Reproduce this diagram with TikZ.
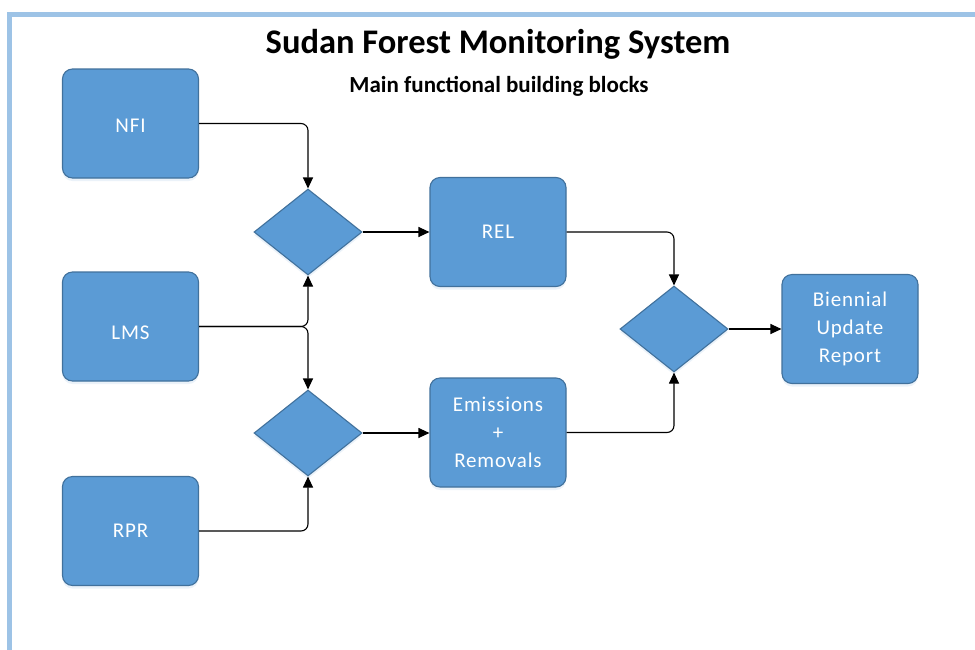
\documentclass[tikz,border=0pt]{standalone}
\usepackage{fontspec}
\setmainfont{Carlito}
\newfontfamily\boxfont[LetterSpace=4]{Carlito}
\usetikzlibrary{shapes.geometric,arrows.meta,shadows}
\definecolor{boxblue}{HTML}{5B9BD5}
\definecolor{boxedge}{HTML}{41719C}
\definecolor{frameblue}{HTML}{9DC3E6}
\tikzset{
  blockbox/.style={rectangle, rounded corners=10pt, fill=boxblue, draw=boxedge, line width=1.1pt,
    minimum width=136pt, minimum height=109pt, inner sep=0pt, text=white, align=center,
    font=\boxfont\fontsize{21}{28}\selectfont,
    drop shadow={shadow xshift=0pt, shadow yshift=-3pt, opacity=0.12, fill=boxblue}},
  gate/.style={diamond, fill=boxblue, draw=boxedge, line width=1.1pt,
    minimum width=108pt, minimum height=86pt, inner sep=0pt,
    drop shadow={shadow xshift=0pt, shadow yshift=-3pt, opacity=0.12, fill=boxblue}},
  conn/.style={draw=black, line width=1.1pt, rounded corners=7pt, -{Triangle[length=11pt,width=10pt]}},
}
\begin{document}
\begin{tikzpicture}[x=1pt,y=-1pt]
\useasboundingbox (0,0) rectangle (975,649);
\fill[white] (0,0) rectangle (975,649);
\draw[frameblue, line width=5pt] (9.5,660) -- (9.5,14.5) -- (990,14.5);

\node[anchor=base, font=\bfseries\fontsize{34.5}{40}\selectfont] (title) at (498,53) {Sudan Forest Monitoring System};
\node[anchor=base, font=\bfseries\fontsize{23}{27}\selectfont] (sub) at (499,92) {Main functional building blocks};

\node[blockbox] (nfi) at (130.5,123.5) {\raisebox{-2pt}[\height][\depth]{NFI}};
\node[blockbox] (lms) at (130.5,326.5) {\raisebox{-6pt}[\height][\depth]{LMS}};
\node[blockbox] (rpr) at (130.5,531) {RPR};
\node[gate] (d1) at (308,232) {};
\node[gate] (d2) at (308,433) {};
\node[blockbox] (rel) at (498,232) {REL};
\node[blockbox] (em) at (498,432.5) {Emissions\\+\\Removals};
\node[gate] (d3) at (674,329) {};
\node[blockbox] (bur) at (850,329) {Biennial\\Update\\Report};

\draw[conn] (nfi.east) -| (d1.north);
\draw[conn] (lms.east) -| (d1.south);
\draw[conn] (lms.east) -| (d2.north);
\draw[conn] (rpr.east) -| (d2.south);
\draw[conn] (d1.east) -- (rel.west);
\draw[conn] (d2.east) -- (em.west |- d2.east);
\draw[conn] (rel.east) -| (d3.north);
\draw[conn] (em.east) -| (d3.south);
\draw[conn] (d3.east) -- (bur.west);
\end{tikzpicture}
\end{document}
